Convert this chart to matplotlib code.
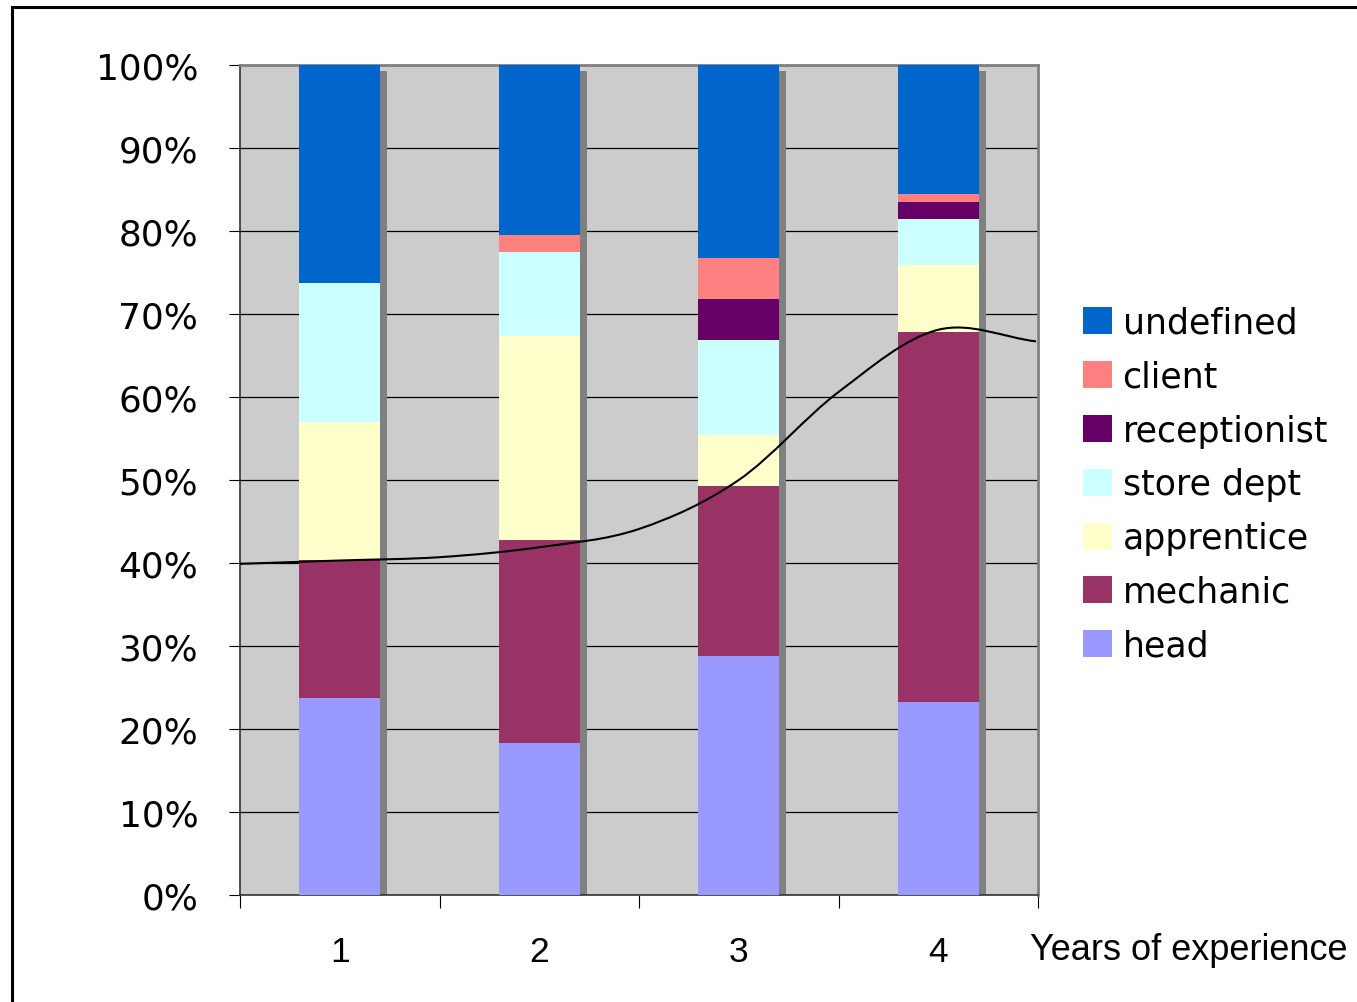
import numpy as np
import matplotlib.pyplot as plt
from matplotlib.path import Path
from matplotlib.patches import PathPatch, Rectangle

# share of each role per year of experience (percent)
years = [1, 2, 3, 4]
year_labels = ['1', '2', '3', '4']
roles = ['head', 'mechanic', 'apprentice', 'store dept', 'receptionist', 'client', 'undefined']
head = [23.7, 18.3, 28.8, 23.3]
mechanic = [16.7, 24.5, 20.5, 44.5]
apprentice = [16.6, 24.5, 6.1, 8.1]
store_dept = [16.7, 10.2, 11.5, 5.5]
receptionist = [0.0, 0.0, 4.9, 2.1]
client = [0.0, 2.0, 4.9, 1.0]
undefined = [26.3, 20.5, 23.3, 15.5]
role_colors = ['#9999FF', '#993366', '#FFFFCC', '#CCFFFF', '#660066', '#FF8080', '#0066CC']

# smooth trend curve drawn over the columns
curve_x = [0.5, 1.0, 1.5, 2.0, 2.5, 3.0, 3.5, 4.0, 4.49]
curve_y = [39.9, 40.3, 40.7, 41.9, 44.1, 50.0, 60.6, 68.1, 66.7]

series = [head, mechanic, apprentice, store_dept, receptionist, client, undefined]

W, H = 1357, 1003
fig = plt.figure(figsize=(W / 100, H / 100), dpi=100)
ax = fig.add_axes([240 / W, 1 - 896 / H, (1038 - 240) / W, (896 - 66) / H])
ax.set_facecolor('#CCCCCC')

x = np.array(years, dtype=float)
width = 0.406
totals = np.sum(series, axis=0)

# gray drop shadow behind each column
dx, dy = 7 / 199.5, 6 / 8.3
ax.bar(x + dx, totals - dy, width, color='#808080', zorder=2, align='center')

bottom = np.zeros(len(years))
handles = []
for vals, name, col in zip(series, roles, role_colors):
    b = ax.bar(x, vals, width, bottom=bottom, color=col, label=name, zorder=3)
    handles.append(b)
    bottom += np.array(vals)

# hermite -> bezier segments so the curve is smooth
cx = np.array(curve_x)
cy = np.array(curve_y)
m = np.gradient(cy, cx)
verts = [(cx[0], cy[0])]
codes = [Path.MOVETO]
for i in range(len(cx) - 1):
    h = cx[i + 1] - cx[i]
    verts += [(cx[i] + h / 3, cy[i] + m[i] * h / 3),
              (cx[i + 1] - h / 3, cy[i + 1] - m[i + 1] * h / 3),
              (cx[i + 1], cy[i + 1])]
    codes += [Path.CURVE4] * 3
ax.add_patch(PathPatch(Path(verts, codes), fill=False, edgecolor='black', lw=1.5, zorder=5))

ax.set_xlim(0.5, 4.5)
ax.set_ylim(0, 100)
ax.set_yticks(np.arange(0, 101, 10))
ax.set_yticklabels(['{}%'.format(v) for v in range(0, 101, 10)], fontsize=25.8, family='DejaVu Sans')
ax.yaxis.grid(True, color='black', lw=0.9, zorder=1)
ax.set_axisbelow(True)
ax.tick_params(axis='y', direction='out', length=8, width=0.8, pad=22, color='black')

ax.set_xticks(x)
ax.set_xticklabels(year_labels, fontsize=25.5, family='Liberation Sans')
ax.set_xticks(np.arange(0.5, 4.6, 1.0), minor=True)
ax.tick_params(axis='x', which='major', length=0, pad=29)
ax.tick_params(axis='x', which='minor', direction='out', length=9, width=0.8, color='black')

for s in ['top', 'right']:
    ax.spines[s].set_color('#808080')
    ax.spines[s].set_linewidth(2)
for s in ['left', 'bottom']:
    ax.spines[s].set_color('#333333')
    ax.spines[s].set_linewidth(1.2)

fig.text(1030 / W, 1 - 951 / H, 'Years of experience', fontsize=26, family='Liberation Sans',
         ha='left', va='center')

leg = fig.legend(handles[::-1], roles[::-1], loc='upper left',
                 bbox_to_anchor=(1083 / W, 1 - 307 / H), frameon=False,
                 prop={'family': 'DejaVu Sans', 'size': 25},
                 handlelength=0.84, handleheight=0.82, handletextpad=0.3,
                 labelspacing=0.57, borderpad=0, borderaxespad=0)

# outer border of the chart (cut off at right and bottom)
fig.patches.append(Rectangle((11.5 / W, -1), 5, 1 - 7.5 / H + 1, transform=fig.transFigure,
                             fill=False, edgecolor='black', lw=2.2, clip_on=False))

fig.savefig('out.png', dpi=100)
